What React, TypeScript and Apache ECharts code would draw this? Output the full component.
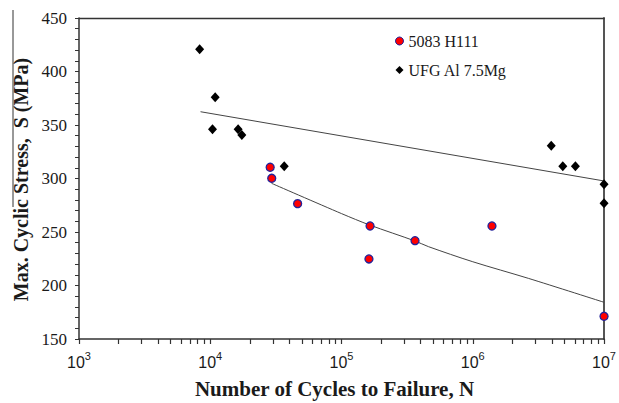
import React, { useEffect, useRef } from "react";
import * as echarts from "echarts";

// UFG Al 7.5Mg (black diamonds)
const ufgCycles = [8300, 10900, 10400, 16300, 17400, 36600, 3.96e6, 4.85e6, 6.05e6, 1e7, 1e7];
const ufgStress = [420.7, 376, 346, 346, 340.7, 311.4, 330.7, 311.4, 311.4, 294.6, 276.8];

// 5083 H111 (red circles)
const h111Cycles = [28600, 29400, 46300, 165000, 161800, 363000, 1.4e6, 1e7];
const h111Stress = [310.5, 300.2, 276.5, 255.6, 224.8, 241.9, 255.6, 171.2];

// trend lines
const ufgFitCycles = [8430, 1e7];
const ufgFitStress = [362.4, 297.7];
const h111FitCycles = [29300, 1e5, 1.64e5, 3.63e5, 4.6e5, 1e6, 2.65e6, 1e7];
const h111FitStress = [295.5, 267.2, 256.5, 241.6, 236.3, 222.2, 206.7, 184.3];

// axis ticks
const yTicks = [150, 200, 250, 300, 350, 400, 450];
const decades = [3, 4, 5, 6, 7];
const multipliers = [1, 2, 3, 4, 5, 6, 7, 8, 9];
const xTickExponents: number[] = [];
decades.forEach((d) => {
  multipliers.forEach((k) => {
    if (d < 7 || k === 1) xTickExponents.push(d + Math.log10(k));
  });
});

const zip = (a: number[], b: number[]) => a.map((v, i) => [v, b[i]]);

export default function App() {
  const ref = useRef<HTMLDivElement>(null);
  useEffect(() => {
    if (!ref.current) return;
    const chart = echarts.init(ref.current, null, { renderer: "svg" });
    const serif = "'Liberation Serif', 'Times New Roman', serif";
    const sans = "'Liberation Sans', Arial, sans-serif";
    chart.setOption({
      animation: false,
      backgroundColor: "#ffffff",
      grid: { left: 79, right: 13, top: 18, bottom: 64, show: false },
      legend: {
        show: true,
        orient: "vertical",
        left: 395,
        top: 33,
        padding: 0,
        itemWidth: 8,
        itemHeight: 8,
        itemGap: 13,
        textStyle: { fontFamily: serif, fontSize: 16, color: "#1a1a1a", lineHeight: 16 },
        data: [
          { name: "5083 H111", icon: "circle", itemStyle: { color: "#ff0000", borderColor: "#22229a", borderWidth: 1 } },
          { name: "UFG Al 7.5Mg", icon: "diamond", itemStyle: { color: "#000000" } },
        ],
      },
      xAxis: [
        {
          type: "log",
          logBase: 10,
          min: 1e3,
          max: 1e7,
          position: "bottom",
          axisLine: { show: true, lineStyle: { color: "#333", width: 1.5 } },
          axisTick: { show: false },
          minorTick: { show: false },
          splitLine: { show: false },
          axisLabel: {
            margin: 11,
            formatter: (v: number) => `{b|10}{s|${Math.round(Math.log10(v))}}`,
            rich: {
              b: { fontFamily: sans, fontSize: 16, color: "#1a1a1a", lineHeight: 20, verticalAlign: "bottom" },
              s: { fontFamily: sans, fontSize: 11, color: "#1a1a1a", lineHeight: 11, verticalAlign: "top" },
            },
          },
        },
        {
          type: "log",
          logBase: 10,
          min: 1e3,
          max: 1e7,
          position: "top",
          axisLine: { show: true, lineStyle: { color: "#333", width: 1.3 } },
          axisTick: { show: false },
          axisLabel: { show: false },
          splitLine: { show: false },
        },
        {
          type: "value",
          min: 3,
          max: 7,
          position: "bottom",
          axisLine: { show: false },
          axisTick: {
            show: true,
            inside: false,
            length: 5,
            customValues: xTickExponents,
            lineStyle: { color: "#333", width: 1.2 },
          },
          axisLabel: { show: false },
          splitLine: { show: false },
        },
      ],
      yAxis: [
        {
          type: "value",
          min: 150,
          max: 450,
          interval: 50,
          position: "left",
          axisLine: { show: true, lineStyle: { color: "#333", width: 1.5 } },
          axisTick: { show: true, inside: false, length: 4, lineStyle: { color: "#333" } },
          minorTick: { show: true, splitNumber: 5, length: 4, lineStyle: { color: "#333" } },
          splitLine: { show: false },
          axisLabel: {
            margin: 12,
            fontFamily: serif,
            fontSize: 17,
            color: "#1a1a1a",
            customValues: yTicks,
          },
        },
        {
          type: "value",
          min: 150,
          max: 450,
          position: "right",
          axisLine: { show: true, lineStyle: { color: "#555", width: 2 } },
          axisTick: { show: false },
          axisLabel: { show: false },
          splitLine: { show: false },
        },
      ],
      series: [
        {
          name: "fitUFG",
          type: "line",
          data: zip(ufgFitCycles, ufgFitStress),
          showSymbol: false,
          symbol: "none",
          lineStyle: { color: "#444", width: 1 },
          z: 1,
          silent: true,
        },
        {
          name: "fitH111",
          type: "line",
          data: zip(h111FitCycles, h111FitStress),
          showSymbol: false,
          symbol: "none",
          smooth: 0.3,
          lineStyle: { color: "#444", width: 1 },
          z: 1,
          silent: true,
        },
        {
          name: "5083 H111",
          type: "scatter",
          data: zip(h111Cycles, h111Stress),
          symbol: "circle",
          symbolSize: 8,
          itemStyle: { color: "#ff0000", borderColor: "#22229a", borderWidth: 1.3, opacity: 1 },
          z: 3,
        },
        {
          name: "UFG Al 7.5Mg",
          type: "scatter",
          data: zip(ufgCycles, ufgStress),
          symbol: "diamond",
          symbolSize: [9, 10],
          itemStyle: { color: "#000000", opacity: 1 },
          z: 3,
        },
      ],
      graphic: [
        {
          type: "text",
          x: 21,
          y: 179.5,
          rotation: Math.PI / 2,
          style: {
            text: "Max. Cyclic Stress,  S (MPa)",
            fontFamily: serif,
            fontWeight: "bold",
            fontSize: 20,
            fill: "#1a1a1a",
            align: "center",
            verticalAlign: "middle",
          },
        },
        {
          type: "text",
          x: 334.5,
          y: 389,
          style: {
            text: "Number of Cycles to Failure, N",
            fontFamily: serif,
            fontWeight: "bold",
            fontSize: 21,
            fill: "#1a1a1a",
            align: "center",
            verticalAlign: "middle",
          },
        },
        {
          type: "line",
          shape: { x1: 13, y1: 10, x2: 13, y2: 207 },
          style: { stroke: "#333", lineWidth: 1 },
        },
      ],
    });
    return () => chart.dispose();
  }, []);
  return <div ref={ref} style={{ width: 619, height: 403, position: "absolute", left: 0, top: 0 }} />;
}
